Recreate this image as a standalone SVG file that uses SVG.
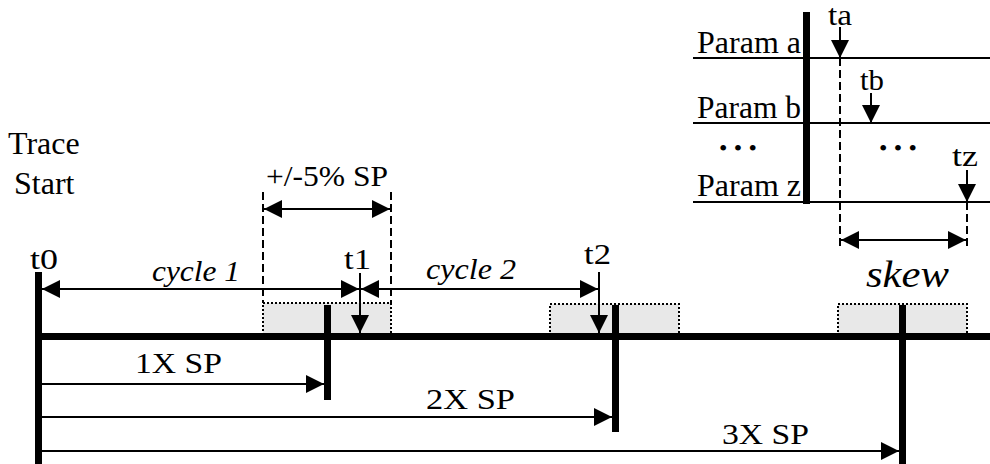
<svg xmlns="http://www.w3.org/2000/svg" width="990" height="464" viewBox="0 0 990 464" font-family="Liberation Serif, serif">
<style>
text{font-family:"Liberation Serif",serif;fill:#000}
.it{font-style:italic}
.thin{stroke:#000;stroke-width:2;fill:none}
.dash{stroke:#000;stroke-width:2;stroke-dasharray:8 4;fill:none}
.box{fill:#e8e8e8;stroke:#000;stroke-width:2;stroke-dasharray:2 2}
.bar{fill:#000}
</style>
<defs>
<marker id="ah" viewBox="0 0 18 18" markerWidth="18" markerHeight="18" refX="18" refY="9" orient="auto-start-reverse" markerUnits="userSpaceOnUse">
<path d="M0,0 L18,9 L0,18 z" fill="#000"/>
</marker>
</defs>
<rect width="990" height="464" fill="#fff"/>

<g id="tolerance-boxes">
<rect class="box" x="263" y="303" width="128" height="32"/>
<rect class="box" x="550" y="304" width="129" height="31"/>
<rect class="box" x="838" y="304" width="129" height="31"/>
</g>

<g id="timeline">
<rect class="bar" x="35" y="333" width="955" height="7"/>
<rect class="bar" x="35" y="272" width="7" height="192"/>
<rect class="bar" x="324" y="305" width="7" height="95"/>
<rect class="bar" x="612" y="305" width="7" height="127"/>
<rect class="bar" x="899" y="305" width="7" height="159"/>
</g>

<g id="param-table">
<line class="thin" x1="693" y1="58" x2="990" y2="58"/>
<line class="thin" x1="693" y1="123" x2="990" y2="123"/>
<line class="thin" x1="693" y1="202" x2="990" y2="202"/>
<rect class="bar" x="803" y="12" width="7" height="192"/>
<text x="697" y="53" font-size="31" textLength="104" lengthAdjust="spacingAndGlyphs">Param a</text>
<text x="697" y="118" font-size="31" textLength="104" lengthAdjust="spacingAndGlyphs">Param b</text>
<text x="719" y="156" font-size="24" textLength="38" lengthAdjust="spacing">• • •</text>
<text x="697" y="196" font-size="31" textLength="104" lengthAdjust="spacingAndGlyphs">Param z</text>
<text x="879" y="156" font-size="24" textLength="38" lengthAdjust="spacing">• • •</text>
<text x="828" y="25" font-size="29" textLength="24" lengthAdjust="spacingAndGlyphs">ta</text>
<text x="860" y="90" font-size="29" textLength="24" lengthAdjust="spacingAndGlyphs">tb</text>
<text x="952" y="166" font-size="29" textLength="26" lengthAdjust="spacingAndGlyphs">tz</text>
</g>

<g id="labels">
<text x="8" y="154" font-size="32">Trace</text>
<text x="14" y="194" font-size="32">Start</text>
<text x="266" y="186" font-size="30" textLength="122" lengthAdjust="spacingAndGlyphs">+/-5% SP</text>
<text x="30" y="269" font-size="30" textLength="28" lengthAdjust="spacingAndGlyphs">t0</text>
<text x="344" y="269" font-size="30" textLength="27" lengthAdjust="spacingAndGlyphs">t1</text>
<text x="584" y="264" font-size="30" textLength="27" lengthAdjust="spacingAndGlyphs">t2</text>
<text class="it" x="152" y="281" font-size="30" textLength="88" lengthAdjust="spacingAndGlyphs">cycle 1</text>
<text class="it" x="426" y="279" font-size="30" textLength="90" lengthAdjust="spacingAndGlyphs">cycle 2</text>
<text class="it" x="866" y="287" font-size="37" textLength="83" lengthAdjust="spacingAndGlyphs">skew</text>
<text x="135" y="373" font-size="30" textLength="87" lengthAdjust="spacingAndGlyphs">1X SP</text>
<text x="426" y="409" font-size="30" textLength="89" lengthAdjust="spacingAndGlyphs">2X SP</text>
<text x="722" y="444" font-size="30" textLength="87" lengthAdjust="spacingAndGlyphs">3X SP</text>
</g>

<g id="connectors">
<line class="dash" x1="263" y1="192" x2="263" y2="303"/>
<line class="dash" x1="391" y1="192" x2="391" y2="303"/>
<line class="dash" x1="840" y1="58" x2="840" y2="250"/>
<line class="dash" x1="967" y1="202" x2="967" y2="250"/>
<line class="thin" x1="264" y1="209" x2="390" y2="209" marker-start="url(#ah)" marker-end="url(#ah)"/>
<line class="thin" x1="42" y1="289" x2="359" y2="289" marker-start="url(#ah)" marker-end="url(#ah)"/>
<line class="thin" x1="361" y1="289" x2="598" y2="289" marker-start="url(#ah)" marker-end="url(#ah)"/>
<line class="thin" x1="360" y1="273" x2="360" y2="333" marker-end="url(#ah)"/>
<line class="thin" x1="599" y1="272" x2="599" y2="333" marker-end="url(#ah)"/>
<line class="thin" x1="840" y1="27" x2="840" y2="58" marker-end="url(#ah)"/>
<line class="thin" x1="871" y1="93" x2="871" y2="123" marker-end="url(#ah)"/>
<line class="thin" x1="967" y1="170" x2="967" y2="202" marker-end="url(#ah)"/>
<line class="thin" x1="841" y1="240" x2="966" y2="240" marker-start="url(#ah)" marker-end="url(#ah)"/>
<line class="thin" x1="42" y1="384" x2="324" y2="384" marker-end="url(#ah)"/>
<line class="thin" x1="42" y1="417" x2="612" y2="417" marker-end="url(#ah)"/>
<line class="thin" x1="42" y1="451" x2="899" y2="451" marker-end="url(#ah)"/>
</g>
</svg>
